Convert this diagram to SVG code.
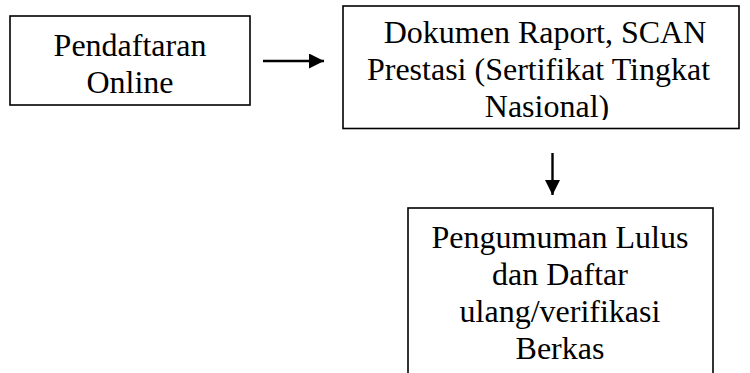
<svg xmlns="http://www.w3.org/2000/svg" width="750" height="373" viewBox="0 0 750 373">
  <style>
    .box { fill: #ffffff; stroke: #000000; stroke-width: 1.6; }
    .lbl { font-family: "Liberation Serif", "Times New Roman", serif; font-size: 32px; fill: #000000; text-anchor: middle; }
    .conn { stroke: #000000; stroke-width: 2.4; fill: none; }
  </style>
  <defs>
    <marker id="head" viewBox="0 0 10 10" refX="10" refY="5" markerUnits="userSpaceOnUse" markerWidth="15" markerHeight="15" orient="auto">
      <path d="M0,0 L10,5 L0,10 Z" fill="#000000"/>
    </marker>
    <clipPath id="clip-dok">
      <rect x="343" y="6" width="396" height="114"/>
    </clipPath>
  </defs>
  <rect width="750" height="373" fill="#ffffff"/>

  <g id="pendaftaran">
    <rect class="box" x="10" y="16" width="240" height="89"/>
    <text class="lbl" x="130" y="56">Pendaftaran</text>
    <text class="lbl" x="130" y="93">Online</text>
  </g>

  <g id="dokumen">
    <rect class="box" x="343" y="6" width="396" height="122.5"/>
    <g clip-path="url(#clip-dok)">
      <text class="lbl" x="545" y="43">Dokumen Raport, SCAN</text>
      <text class="lbl" x="538.5" y="80">Prestasi (Sertifikat Tingkat</text>
      <text class="lbl" x="547" y="117">Nasional)</text>
    </g>
  </g>

  <g id="pengumuman">
    <rect class="box" x="408" y="208" width="305" height="180"/>
    <text class="lbl" x="560" y="248">Pengumuman Lulus</text>
    <text class="lbl" x="560" y="285">dan Daftar</text>
    <text class="lbl" x="560" y="322">ulang/verifikasi</text>
    <text class="lbl" x="560" y="359">Berkas</text>
  </g>

  <g id="connectors">
    <line class="conn" x1="263" y1="61" x2="324" y2="61" marker-end="url(#head)"/>
    <line class="conn" x1="552.5" y1="153" x2="552.5" y2="195" marker-end="url(#head)"/>
  </g>
</svg>
